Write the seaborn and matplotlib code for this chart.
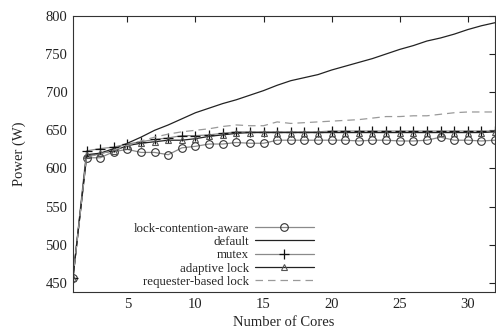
"""
Power vs number of cores for different lock strategies
"""

import matplotlib
matplotlib.use("Agg")
import matplotlib.pyplot as plt
import seaborn as sns
import pandas as pd

cores = list(range(1, 33))

lock_contention_aware = [456, 614, 614, 622, 625, 621, 621, 618, 627, 629, 632, 632,
                         634, 633, 633, 637, 637, 637, 637, 637, 637, 636, 637, 637,
                         636, 636, 637, 641, 637, 637, 636, 637]
default = [456, 615, 620, 626, 633, 641, 650, 657, 665, 673, 679, 685,
           690, 696, 702, 709, 715, 719, 723, 729, 734, 739, 744, 750,
           756, 761, 767, 771, 776, 782, 787, 791]
mutex = [456, 623, 626, 628, 632, 635, 638, 640, 643, 643, 644, 646,
         648, 648, 648, 648, 648, 648, 648, 649, 649, 649, 649, 649,
         649, 649, 649, 649, 649, 649, 649, 649]
adaptive_lock = [456, 618, 620, 623, 630, 633, 635, 637, 637, 639, 642, 644,
                 646, 647, 647, 647, 647, 647, 647, 647, 647, 647, 647, 647,
                 647, 647, 647, 647, 647, 647, 647, 648]
requester_based = [456, 615, 619, 624, 630, 636, 641, 645, 648, 650, 652, 655,
                   657, 656, 656, 661, 659, 660, 661, 662, 663, 664, 666, 668,
                   668, 669, 669, 671, 673, 674, 674, 674]

series_names = ["lock-contention-aware", "default", "mutex", "adaptive lock",
                "requester-based lock"]
series_values = [lock_contention_aware, default, mutex, adaptive_lock, requester_based]

df = pd.DataFrame({
    "cores": cores * len(series_names),
    "power": sum(series_values, []),
    "series": [name for name in series_names for _ in cores],
})

sns.set_style("white")
plt.rcParams["font.family"] = ["Liberation Serif", "DejaVu Serif"]
plt.rcParams["font.size"] = 10.5

styles = {
    "lock-contention-aware": dict(color="#8a8a8a", marker="o", mfc="none", mec="#333333",
                                  ms=5.5, mew=0.8, ls="-"),
    "default": dict(color="#222222", marker=None, ls="-"),
    "mutex": dict(color="#8a8a8a", marker="+", mec="#111111", ms=7.5, mew=0.9, ls="-"),
    "adaptive lock": dict(color="#222222", marker="^", mfc="none", mec="#555555",
                          ms=5, mew=0.8, ls="-"),
    "requester-based lock": dict(color="#9a9a9a", marker=None, ls=(0, (6, 4))),
}

fig = plt.figure(figsize=(4.96, 3.30), dpi=100)
ax = fig.add_axes([0.147, 0.115, 0.851, 0.837])

for name in series_names:
    st = styles[name]
    sub = df[df["series"] == name]
    sns.lineplot(data=sub, x="cores", y="power", ax=ax, label=name,
                 color=st["color"], linestyle=st["ls"], linewidth=0.9,
                 marker=st["marker"], markersize=st.get("ms", 0),
                 markerfacecolor=st.get("mfc", st["color"]),
                 markeredgecolor=st.get("mec", st["color"]),
                 markeredgewidth=st.get("mew", 0.8))

ax.set_xlim(1, 32)
ax.set_ylim(438, 800)
ax.set_xticks([5, 10, 15, 20, 25, 30])
ax.set_yticks(range(450, 801, 50))
ax.tick_params(direction="in", length=4, width=0.8, top=True, right=True,
               labelsize=10.5, colors="#222222", pad=4)
for sp in ax.spines.values():
    sp.set_color("#333333")
    sp.set_linewidth(0.8)

ax.set_xlabel("Number of Cores", fontsize=10.5, labelpad=4)
ax.set_ylabel("Power (W)", fontsize=10.5, labelpad=14)

ax.legend(loc="lower right", bbox_to_anchor=(0.571, 0.015), markerfirst=False,
          frameon=False, fontsize=9.3, handlelength=4.6, handletextpad=0.4,
          labelspacing=0.1, borderaxespad=0, borderpad=0)

fig.savefig("out.png", dpi=100)
